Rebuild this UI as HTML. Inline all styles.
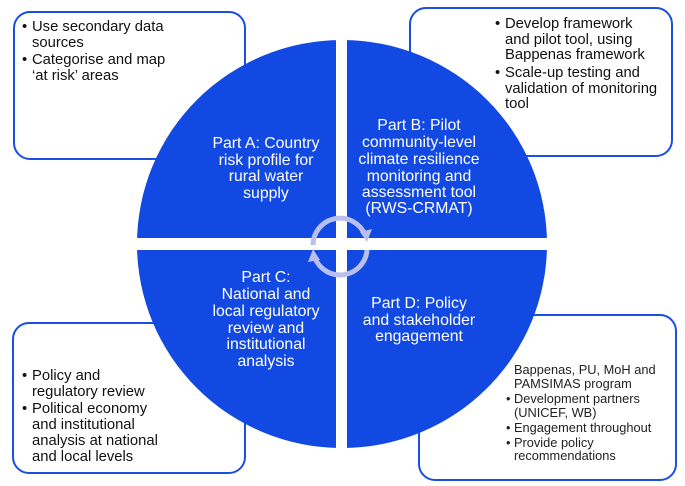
<!DOCTYPE html>
<html><head><meta charset="utf-8"><style>
html,body{margin:0;padding:0;background:#fff;}
svg{display:block;}
.w{font-family:"Liberation Sans",sans-serif;font-size:15.8px;fill:#fff;text-anchor:middle;}
.b{font-family:"Liberation Sans",sans-serif;font-size:14.8px;fill:#111;}
.s{font-family:"Liberation Sans",sans-serif;font-size:12.8px;fill:#222;}
</style></head><body>
<svg width="685" height="486" viewBox="0 0 685 486" xmlns="http://www.w3.org/2000/svg">
<rect width="685" height="486" fill="#fff"/>
<g fill="#fff" stroke="#1a4fe0" stroke-width="2">
<rect x="14" y="12" width="231" height="147" rx="16"/>
<rect x="410" y="8" width="262" height="148" rx="16"/>
<rect x="13" y="323" width="232" height="150" rx="16"/>
<rect x="419" y="315" width="257" height="165" rx="16"/>
</g>
<ellipse cx="342" cy="244" rx="205" ry="204" fill="#1249e2"/>
<rect x="336" y="30" width="11" height="430" fill="#fff"/>
<rect x="120" y="238" width="450" height="12" fill="#fff"/>
<g fill="none" stroke="#b9c0ef" stroke-width="5">
<path d="M 313 245 A 27 27 0 0 1 365 235"/>
<path d="M 367 250 A 27 27 0 0 1 315 258"/>
</g>
<polygon points="360,232 372,229 367,242" fill="#b9c0ef"/>
<polygon points="320,260 308,262 313,249" fill="#b9c0ef"/>
<g class="w">
<text x="266" y="148">Part A: Country</text>
<text x="266" y="165">risk profile for</text>
<text x="266" y="181">rural water</text>
<text x="266" y="198">supply</text>
<text x="419" y="130">Part B: Pilot</text>
<text x="419" y="147">community-level</text>
<text x="419" y="164">climate resilience</text>
<text x="419" y="181">monitoring  and</text>
<text x="419" y="197">assessment tool</text>
<text x="419" y="213">(RWS-CRMAT)</text>
<text x="266" y="282">Part C:</text>
<text x="266" y="299">National  and</text>
<text x="266" y="316">local regulatory</text>
<text x="266" y="333">review and</text>
<text x="266" y="349">institutional</text>
<text x="266" y="366">analysis</text>
<text x="419" y="308">Part D: Policy</text>
<text x="419" y="325">and stakeholder</text>
<text x="419" y="341">engagement</text>
</g>
<g class="b">
<text x="22" y="31">•</text><text x="32" y="31">Use secondary data</text>
<text x="32" y="47">sources</text>
<text x="22" y="64">•</text><text x="32" y="64">Categorise and map</text>
<text x="32" y="80">‘at risk’ areas</text>
<text x="495" y="28">•</text><text x="505" y="28">Develop framework</text>
<text x="505" y="44">and pilot tool, using</text>
<text x="505" y="59">Bappenas framework</text>
<text x="495" y="77">•</text><text x="505" y="77">Scale-up testing  and</text>
<text x="505" y="93">validation of monitoring</text>
<text x="505" y="108">tool</text>
<text x="22" y="380">•</text><text x="32" y="380">Policy and</text>
<text x="32" y="396">regulatory review</text>
<text x="22" y="413">•</text><text x="32" y="413">Political economy</text>
<text x="32" y="429">and institutional</text>
<text x="32" y="445">analysis at national</text>
<text x="32" y="461">and local levels</text>
</g>
<g class="s">
<text x="514" y="374">Bappenas, PU, MoH and</text>
<text x="514" y="388">PAMSIMAS program</text>
<text x="506" y="403">•</text><text x="514" y="403">Development  partners</text>
<text x="514" y="417">(UNICEF,  WB)</text>
<text x="506" y="432">•</text><text x="514" y="432">Engagement throughout</text>
<text x="506" y="447">•</text><text x="514" y="447">Provide policy</text>
<text x="514" y="460">recommendations</text>
</g>
</svg>
</body></html>
